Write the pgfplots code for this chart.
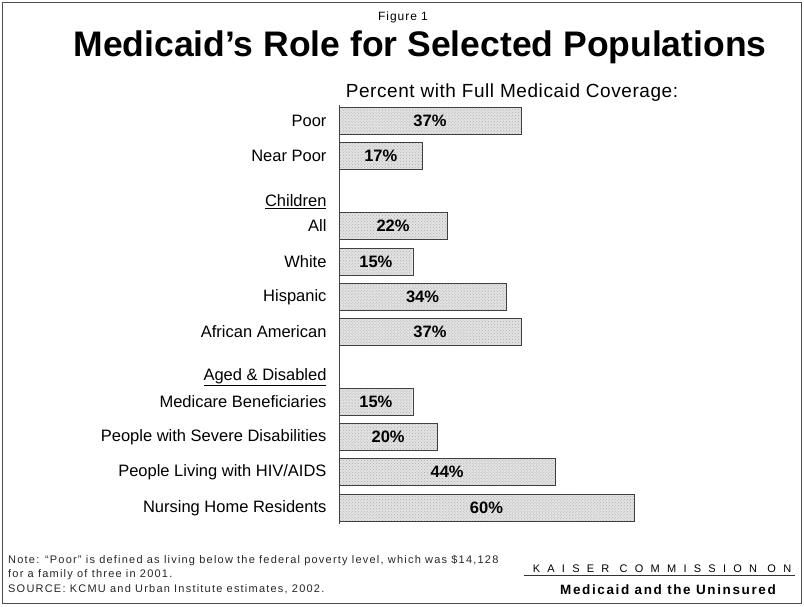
\documentclass[border=0pt]{standalone}
\usepackage{pgfplots}
\pgfplotsset{compat=1.18}
\usepackage{fontspec}
\setmainfont{Liberation Sans}
\usetikzlibrary{patterns}
\begin{document}
\begin{tikzpicture}
\path[use as bounding box] (0,0) rectangle (804bp,-607bp);
\draw[gray!60!black, line width=0.9bp] (2.5bp,-2.5bp) rectangle (801.5bp,-603.5bp);
\node[anchor=base] at (403bp,-20bp) {\fontsize{12bp}{14bp}\selectfont\addfontfeature{LetterSpace=8}Figure 1};
\node[anchor=base] at (420bp,-56bp) {\fontsize{35.5bp}{40bp}\selectfont\bfseries Medicaid’s Role for Selected Populations};
\node[anchor=base] at (512bp,-97bp) {\fontsize{19bp}{22bp}\selectfont\addfontfeature{LetterSpace=3}Percent with Full Medicaid Coverage:};
\begin{axis}[
  at={(339bp,-105bp)}, anchor=north west, scale only axis,
  width=344bp, height=419bp,
  xmin=0, xmax=70, ymin=105, ymax=524, y dir=reverse,
  axis x line=none, axis y line=left, axis line style={-, gray!55!black},
  ytick={120.5,155.5,226,262,297,331.5,402,437,472,508},
  yticklabels={Poor,Near Poor,All,White,Hispanic,African American,Medicare Beneficiaries,People with Severe Disabilities,People Living with HIV/AIDS,Nursing Home Residents},
  major tick length=0,
  yticklabel style={font=\fontsize{16.5bp}{18bp}\selectfont, xshift=-9bp},
  clip=false,
]
\addplot[xbar, bar width=27, fill=gray!22, draw=gray!50!black,
  postaction={pattern=crosshatch dots, pattern color=gray!65},
  point meta=x,
  /pgf/number format/assume math mode=true,
  visualization depends on={rawx \as \rawx},
  nodes near coords={\textbf{\pgfmathprintnumber{\pgfplotspointmeta}\%}},
  every node near coord/.append style={anchor=center, xshift={-\rawx*2.457bp}, font=\fontsize{16.5bp}{18bp}\selectfont, text=black},
] table {
x y
37 120.5
17 155.5
22 226
15 262
34 297
37 331.5
15 402
20 437
44 472
60 508
};
\node[anchor=east, xshift=-9bp, font=\fontsize{16.5bp}{18bp}\selectfont] at (axis cs:0,202) {\underline{Children}};
\node[anchor=east, xshift=-9bp, font=\fontsize{16.5bp}{18bp}\selectfont] at (axis cs:0,377) {\underline{Aged \& Disabled}};
\end{axis}
\node[anchor=base west, align=left, inner sep=0pt, text=black!85, font=\fontsize{11bp}{14.5bp}\selectfont\addfontfeature{LetterSpace=11}] at (8bp,-592bp) {Note: “Poor” is defined as living below the federal poverty level, which was \$14,128\\ for a family of three in 2001.\\ SOURCE: KCMU and Urban Institute estimates, 2002.};
\node[anchor=base] at (662bp,-572bp) {\fontsize{11bp}{13bp}\selectfont\addfontfeature{LetterSpace=66}KAISER COMMISSION ON};
\draw[black!80, line width=0.7bp] (524bp,-575bp) -- (795bp,-575bp);
\node[anchor=base] at (668bp,-594bp) {\fontsize{13.5bp}{15bp}\selectfont\bfseries\addfontfeature{LetterSpace=12}Medicaid and the Uninsured};
\end{tikzpicture}
\end{document}
